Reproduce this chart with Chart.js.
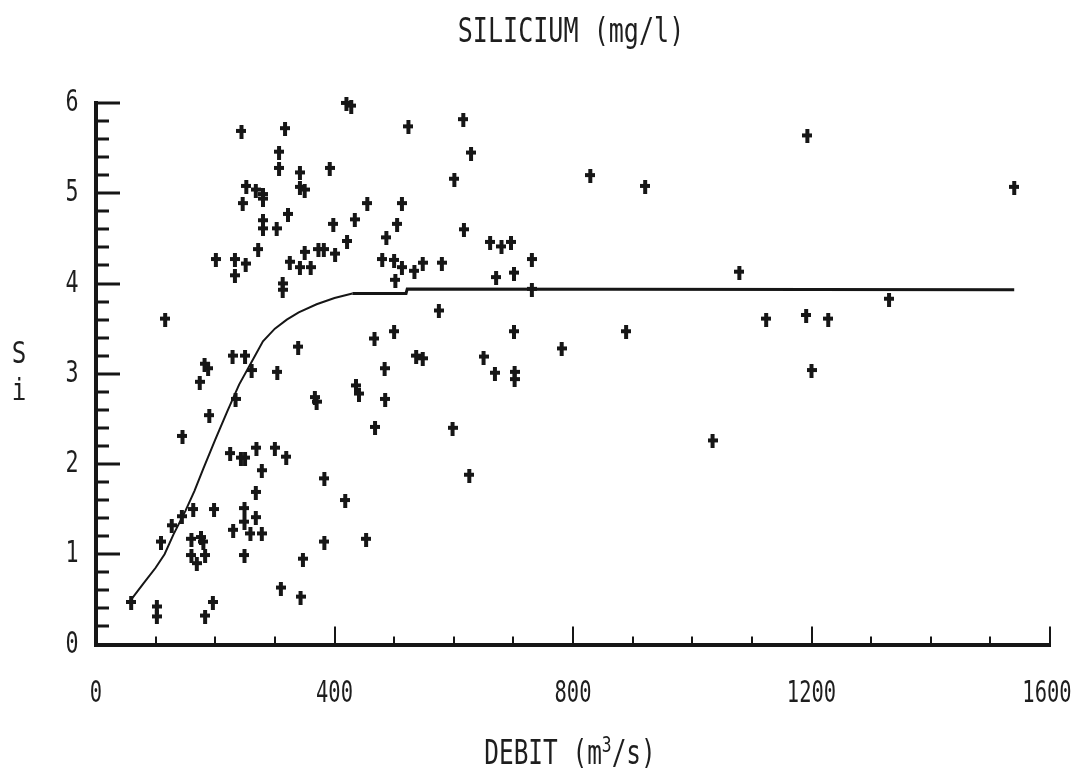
<!DOCTYPE html>
<html>
<head>
<meta charset="utf-8">
<title>Silicium / debit</title>
<script src="https://cdn.jsdelivr.net/npm/chart.js@4.4.1/dist/chart.umd.min.js"></script>
<style>
	html, body {
		margin: 0;
		padding: 0;
		background: #ffffff;
	}
	canvas {
		display: block;
	}
</style>
</head>
<body>
<canvas id="chart" width="1073" height="773"></canvas>
<script>

//
// measured samples: discharge (m3/s) and silicium (mg/l)
//

const debit = [
	420, 428, 244, 317, 524, 307, 307, 342, 342, 350,
	392, 252, 268, 280, 280, 246, 455, 513, 322, 280,
	280, 303, 398, 434, 505, 487, 421, 272, 373, 382,
	350, 401, 201, 233, 233, 251, 325, 342, 360, 480,
	500, 513, 534, 548, 502, 313, 313, 116, 467, 500,
	339, 537, 548, 484, 304, 229, 250, 182, 188, 261,
	174, 234, 367, 370, 436, 441, 485, 468, 190, 145,
	225, 243, 250, 269, 300, 319, 278, 383, 268, 418,
	163, 198, 249, 249, 268, 144, 127, 230, 259, 278,
	160, 176, 180, 109, 160, 169, 183, 249, 383, 453,
	347, 310, 343, 59, 102, 102, 196, 183, 616, 629,
	601, 829, 921, 617, 661, 680, 696, 731, 671, 701,
	580, 1079, 731, 575, 701, 889, 1124, 781, 650, 669,
	702, 702, 598, 626, 1034, 1193, 1540, 1191, 1228, 1200,
	1330
];

const silicium = [
	5.99, 5.96, 5.68, 5.71, 5.73, 5.45, 5.27, 5.22, 5.06, 5.03,
	5.27, 5.07, 5.03, 4.98, 4.93, 4.88, 4.88, 4.88, 4.76, 4.69,
	4.60, 4.60, 4.65, 4.70, 4.65, 4.50, 4.46, 4.37, 4.37, 4.37,
	4.34, 4.32, 4.26, 4.26, 4.08, 4.21, 4.23, 4.17, 4.17, 4.26,
	4.25, 4.17, 4.13, 4.22, 4.03, 3.99, 3.92, 3.60, 3.38, 3.46,
	3.29, 3.19, 3.16, 3.05, 3.01, 3.19, 3.19, 3.10, 3.05, 3.03,
	2.90, 2.71, 2.73, 2.68, 2.86, 2.77, 2.71, 2.40, 2.53, 2.30,
	2.11, 2.06, 2.06, 2.17, 2.17, 2.07, 1.92, 1.83, 1.68, 1.59,
	1.49, 1.49, 1.50, 1.35, 1.40, 1.41, 1.31, 1.26, 1.22, 1.22,
	1.16, 1.18, 1.13, 1.13, 0.98, 0.89, 0.98, 0.98, 1.13, 1.16,
	0.94, 0.62, 0.52, 0.46, 0.41, 0.30, 0.46, 0.31, 5.81, 5.44,
	5.15, 5.19, 5.07, 4.59, 4.45, 4.40, 4.45, 4.26, 4.06, 4.11,
	4.22, 4.12, 3.93, 3.69, 3.46, 3.46, 3.60, 3.27, 3.18, 3.00,
	2.93, 3.01, 2.39, 1.87, 2.25, 5.63, 5.06, 3.64, 3.60, 3.03,
	3.82
];

// fitted saturation curve
const fitDebit = [57, 80, 100, 115, 130, 150, 165, 180, 200, 220, 240, 260, 280, 300, 320, 340, 370, 400, 430, 520, 522, 1540];
const fitSilicium = [0.48, 0.68, 0.85, 1.00, 1.22, 1.48, 1.70, 1.95, 2.27, 2.58, 2.88, 3.12, 3.36, 3.50, 3.60, 3.68, 3.77, 3.84, 3.89, 3.89, 3.94, 3.93];

// axis labels
const xTickLabels = ['0', '400', '800', '1200', '1600'];
const yTickLabels = ['0', '1', '2', '3', '4', '5', '6'];

const title = 'SILICIUM (mg/l)';
const xTitle = ['DEBIT (m', '3', '/s)'];
const yTitle = ['S', 'i'];

//
// drawing helpers
//

const ink = '#161616';
const fontFamily = '"DejaVu Sans Mono", "Liberation Mono", monospace';

function makeCross() {
	let canvas = document.createElement('canvas');
	canvas.width = 10;
	canvas.height = 14;
	let c = canvas.getContext('2d');
	c.fillStyle = ink;
	c.fillRect(3, 0, 4, 14);
	c.fillRect(0, 4, 10, 4);
	return canvas;
}

// narrow plotter-like lettering
function drawNarrowText(ctx, text, x, y, size, squeeze, align) {
	ctx.save();
	ctx.translate(x, y);
	ctx.scale(squeeze, 1);
	ctx.font = size + 'px ' + fontFamily;
	ctx.fillStyle = '#1e1e1e';
	ctx.textAlign = align || 'center';
	ctx.textBaseline = 'middle';
	ctx.fillText(text, 0, 0);
	ctx.restore();
}

function narrowWidth(ctx, text, size, squeeze) {
	ctx.save();
	ctx.font = size + 'px ' + fontFamily;
	let width = ctx.measureText(text).width * squeeze;
	ctx.restore();
	return width;
}

// unit label with a raised exponent
function drawUnitTitle(ctx, parts, cx, cy) {
	let size = 33, squeeze = 0.74, supSize = 22;
	let w0 = narrowWidth(ctx, parts[0], size, squeeze);
	let w1 = narrowWidth(ctx, parts[1], supSize, squeeze);
	let w2 = narrowWidth(ctx, parts[2], size, squeeze);
	let x = cx - (w0 + w1 + w2) / 2;
	drawNarrowText(ctx, parts[0], x, cy, size, squeeze, 'left');
	drawNarrowText(ctx, parts[1], x + w0, cy - 9, supSize, squeeze, 'left');
	drawNarrowText(ctx, parts[2], x + w0 + w1, cy, size, squeeze, 'left');
}

function points(xs, ys) {
	let data = [];
	for (let i = 0; i < xs.length; i++) {
		data.push({x: xs[i], y: ys[i]});
	}
	return data;
}

// inward tick marks, tick labels and titles
const plotterAxes = {
	id: 'plotterAxes',
	afterDraw: function(chart) {
		const ctx = chart.ctx;
		const x = chart.scales.x;
		const y = chart.scales.y;
		const left = chart.chartArea.left;
		const bottom = chart.chartArea.bottom;

		ctx.save();
		ctx.fillStyle = ink;

		// y ticks every 0.2, long ones on the units
		for (let i = 0; i <= 30; i++) {
			let py = Math.round(y.getPixelForValue(i * 0.2));
			let len = (i % 5 == 0) ? 24 : 13;
			ctx.fillRect(left, py - 1.5, len, 3);
		}

		// x ticks every 100, long ones every 400
		for (let i = 1; i <= 16; i++) {
			let px = Math.round(x.getPixelForValue(i * 100));
			let len = (i % 4 == 0) ? 18 : 8;
			ctx.fillRect(px - 1, bottom - len, 2, len);
		}
		ctx.restore();

		// tick labels
		for (let i = 0; i < yTickLabels.length; i++) {
			let value = parseFloat(yTickLabels[i]);
			drawNarrowText(ctx, yTickLabels[i], 72, y.getPixelForValue(value), 31, 0.7);
		}
		for (let i = 0; i < xTickLabels.length; i++) {
			let value = parseFloat(xTickLabels[i]);
			let px = Math.min(x.getPixelForValue(value), 1047);
			drawNarrowText(ctx, xTickLabels[i], px, 694, 31, 0.66);
		}

		// titles
		drawNarrowText(ctx, title, 571, 33, 33, 0.76);
		drawUnitTitle(ctx, xTitle, 570, 755);
		drawNarrowText(ctx, yTitle[0], 19, 355, 31, 0.78);
		drawNarrowText(ctx, yTitle[1], 19, 392, 31, 0.78);
	}
};

//
// chart
//

const chart = new Chart(document.getElementById('chart').getContext('2d'), {
	type: 'scatter',
	data: {
		datasets: [{
			label: 'Si',
			data: points(debit, silicium),
			pointStyle: makeCross(),
			pointRadius: 5,
			clip: false
		}, {
			label: 'fit',
			data: points(fitDebit, fitSilicium),
			showLine: true,
			pointRadius: 0,
			borderColor: ink,
			borderWidth: 3,
			tension: 0,
			segment: {
				borderWidth: function(ctx) {
					return ctx.p1.parsed.x <= 430 ? 2 : 3;
				}
			}
		}]
	},
	options: {
		responsive: false,
		animation: false,
		layout: {
			padding: {
				left: 96,
				right: 23,
				top: 103,
				bottom: 128.5
			}
		},
		scales: {
			x: {
				type: 'linear',
				min: 0,
				max: 1600,
				ticks: {
					display: false
				},
				grid: {
					display: false,
					drawTicks: false
				},
				border: {
					display: true,
					width: 4,
					color: ink
				}
			},
			y: {
				type: 'linear',
				min: 0,
				max: 6,
				ticks: {
					display: false
				},
				grid: {
					display: false,
					drawTicks: false
				},
				border: {
					display: true,
					width: 4,
					color: ink
				}
			}
		},
		plugins: {
			legend: {
				display: false
			},
			tooltip: {
				enabled: false
			}
		}
	},
	plugins: [plotterAxes]
});
</script>
</body>
</html>
